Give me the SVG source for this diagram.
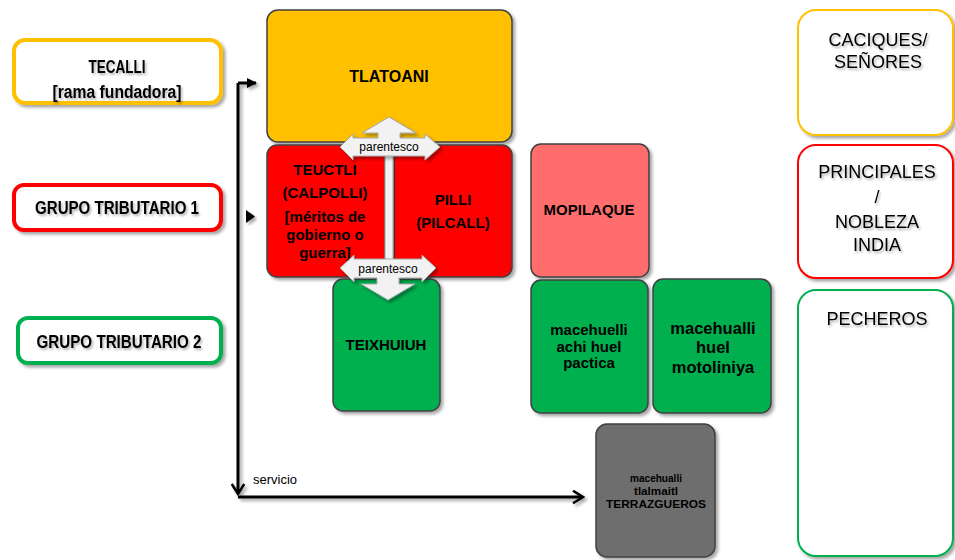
<svg xmlns="http://www.w3.org/2000/svg" width="955" height="560" viewBox="0 0 955 560">
<defs>
  <filter id="sh" x="-10%" y="-10%" width="130%" height="130%">
    <feDropShadow dx="2.5" dy="2.5" stdDeviation="1.5" flood-color="#000" flood-opacity="0.35"/>
  </filter>
  <filter id="lsh" filterUnits="userSpaceOnUse" x="0" y="0" width="955" height="560">
    <feDropShadow dx="2.5" dy="2.5" stdDeviation="1.5" flood-color="#000" flood-opacity="0.35"/>
  </filter>
  <filter id="tsh" x="-10%" y="-30%" width="130%" height="180%">
    <feDropShadow dx="1.5" dy="2" stdDeviation="0.8" flood-color="#000" flood-opacity="0.3"/>
  </filter>
  <marker id="tri" viewBox="0 0 10 10" refX="9" refY="5" markerWidth="3.5" markerHeight="3.5" orient="auto" markerUnits="strokeWidth">
    <path d="M0,0 L10,5 L0,10 z" fill="#000"/>
  </marker>
  <marker id="chev" viewBox="0 0 12 12" refX="10" refY="6" markerWidth="5" markerHeight="5" orient="auto" markerUnits="strokeWidth">
    <path d="M2,1 L10,6 L2,11" fill="none" stroke="#000" stroke-width="2"/>
  </marker>
</defs>
<style>
  .lbl{fill:#fff;stroke-width:4;filter:url(#sh)}
  .lt{font-family:"Liberation Sans",Arial,sans-serif;font-weight:bold;font-size:18px;text-anchor:middle;filter:url(#tsh)}
  .box{stroke:#404040;stroke-width:1.5;filter:url(#sh)}
  .bt{font-family:"Liberation Sans",Arial,sans-serif;font-weight:bold;font-size:15px;text-anchor:middle;fill:#000}
  .rb{fill:#fff;stroke-width:2;filter:url(#sh)}
  .rt{font-family:"Liberation Sans",Arial,sans-serif;font-size:18px;text-anchor:middle;fill:#000;filter:url(#tsh)}
  .con{fill:none;stroke:#000;stroke-width:3;filter:url(#lsh)}
  .par{fill:#F2F2F2;stroke:#A6A6A6;stroke-width:1;filter:url(#sh)}
  .pt{font-family:"Liberation Sans",Arial,sans-serif;font-size:12px;text-anchor:middle;fill:#000}
</style>

<!-- left labels -->
<g id="tecalli">
  <rect class="lbl" x="14" y="40" width="207" height="63" rx="11" stroke="#FFC000"/>
  <text class="lt" x="117" y="73" textLength="57" lengthAdjust="spacingAndGlyphs">TECALLI</text>
  <text class="lt" x="117" y="98" textLength="129" lengthAdjust="spacingAndGlyphs">[rama fundadora]</text>
</g>
<g id="grupo1">
  <rect class="lbl" x="14" y="185" width="207" height="45" rx="10" stroke="#FF0000"/>
  <text class="lt" x="117" y="214" textLength="164" lengthAdjust="spacingAndGlyphs">GRUPO TRIBUTARIO 1</text>
</g>
<g id="grupo2">
  <rect class="lbl" x="18" y="318" width="203" height="45" rx="10" stroke="#00B050"/>
  <text class="lt" x="119" y="348" textLength="165" lengthAdjust="spacingAndGlyphs">GRUPO TRIBUTARIO 2</text>
</g>

<!-- main boxes -->
<g id="tlatoani">
  <rect class="box" x="267" y="10" width="245" height="132" rx="11" fill="#FFC000"/>
  <text class="bt" x="389" y="82" style="font-size:16px">TLATOANI</text>
</g>
<g id="teuctli">
  <rect class="box" x="267" y="145" width="118" height="132" rx="10" fill="#FF0000"/>
  <text class="bt" x="325" y="175">TEUCTLI</text>
  <text class="bt" x="325" y="198">(CALPOLLI)</text>
  <text class="bt" x="325" y="222">[méritos de</text>
  <text class="bt" x="325" y="240">gobierno o</text>
  <text class="bt" x="325" y="258">guerra]</text>
</g>
<g id="pilli">
  <rect class="box" x="394" y="145" width="118" height="132" rx="10" fill="#FF0000"/>
  <text class="bt" x="453" y="205">PILLI</text>
  <text class="bt" x="453" y="228">(PILCALL)</text>
</g>
<g id="teixhuiuh">
  <rect class="box" x="333" y="279" width="107" height="132" rx="10" fill="#00B050"/>
  <text class="bt" x="386" y="350">TEIXHUIUH</text>
</g>
<g id="mopilaque">
  <rect class="box" x="531" y="144" width="118" height="133" rx="10" fill="#FF6D6D"/>
  <text class="bt" x="589" y="215">MOPILAQUE</text>
</g>
<g id="macehuelli">
  <rect class="box" x="531" y="280" width="117" height="133" rx="10" fill="#00B050"/>
  <text class="bt" x="589" y="335">macehuelli</text>
  <text class="bt" x="589" y="352">achi huel</text>
  <text class="bt" x="589" y="368">pactica</text>
</g>
<g id="macehualli">
  <rect class="box" x="653" y="279" width="118" height="134" rx="10" fill="#00B050"/>
  <text class="bt" x="713" y="334" style="font-size:16.5px">macehualli</text>
  <text class="bt" x="713" y="353" style="font-size:16.5px">huel</text>
  <text class="bt" x="713" y="373" style="font-size:16.5px">motoliniya</text>
</g>
<g id="terrazgueros">
  <rect class="box" x="596" y="424" width="119" height="133" rx="11" fill="#6E6E6E"/>
  <text class="bt" x="656" y="482" style="font-size:11.5px" textLength="52" lengthAdjust="spacingAndGlyphs">macehualli</text>
  <text class="bt" x="656" y="495" style="font-size:11.5px" textLength="44" lengthAdjust="spacingAndGlyphs">tlalmaitl</text>
  <text class="bt" x="656" y="508" style="font-size:11.5px" textLength="100" lengthAdjust="spacingAndGlyphs">TERRAZGUEROS</text>
</g>

<!-- right boxes -->
<g id="caciques">
  <rect class="rb" x="798" y="10" width="155" height="125" rx="18" stroke="#FFC000"/>
  <text class="rt" x="878" y="46">CACIQUES/</text>
  <text class="rt" x="878" y="68">SEÑORES</text>
</g>
<g id="principales">
  <rect class="rb" x="798" y="145" width="155" height="133" rx="18" stroke="#FF0000"/>
  <text class="rt" x="877" y="178">PRINCIPALES</text>
  <text class="rt" x="877" y="203">/</text>
  <text class="rt" x="877" y="228">NOBLEZA</text>
  <text class="rt" x="877" y="251">INDIA</text>
</g>
<g id="pecheros">
  <rect class="rb" x="798" y="290" width="155" height="266" rx="18" stroke="#00B050"/>
  <text class="rt" x="877" y="325">PECHEROS</text>
</g>

<!-- connectors -->
<g id="connectors">
  <path class="con" d="M238,83 L238,494" marker-end="url(#chev)"/>
  <path class="con" d="M238,83 L256,83" marker-end="url(#tri)"/>
  <path class="con" d="M238,497 L583,497" marker-end="url(#chev)"/>
  <polygon points="246,210 255,216.5 246,223" fill="#000" filter="url(#sh)"/>
  <text x="253" y="484" font-family="Liberation Sans, Arial, sans-serif" font-size="13" fill="#000">servicio</text>

  <rect class="par" x="385" y="152" width="8" height="110"/>
  <polygon class="par" points="389,117 416,133 400,133 400,138 425,138 425,134 440,147 425,160 425,156 353,156 353,160 340,147 353,134 353,138 378,138 378,133 362,133"/>
  <text class="pt" x="389" y="151">parentesco</text>
  <polygon class="par" points="388,300 415,284 399,284 399,278 422,278 422,282 436,268 422,255 422,259 354,259 354,255 340,268 354,282 354,278 377,278 377,284 361,284"/>
  <text class="pt" x="388" y="273">parentesco</text>
</g>
</svg>
